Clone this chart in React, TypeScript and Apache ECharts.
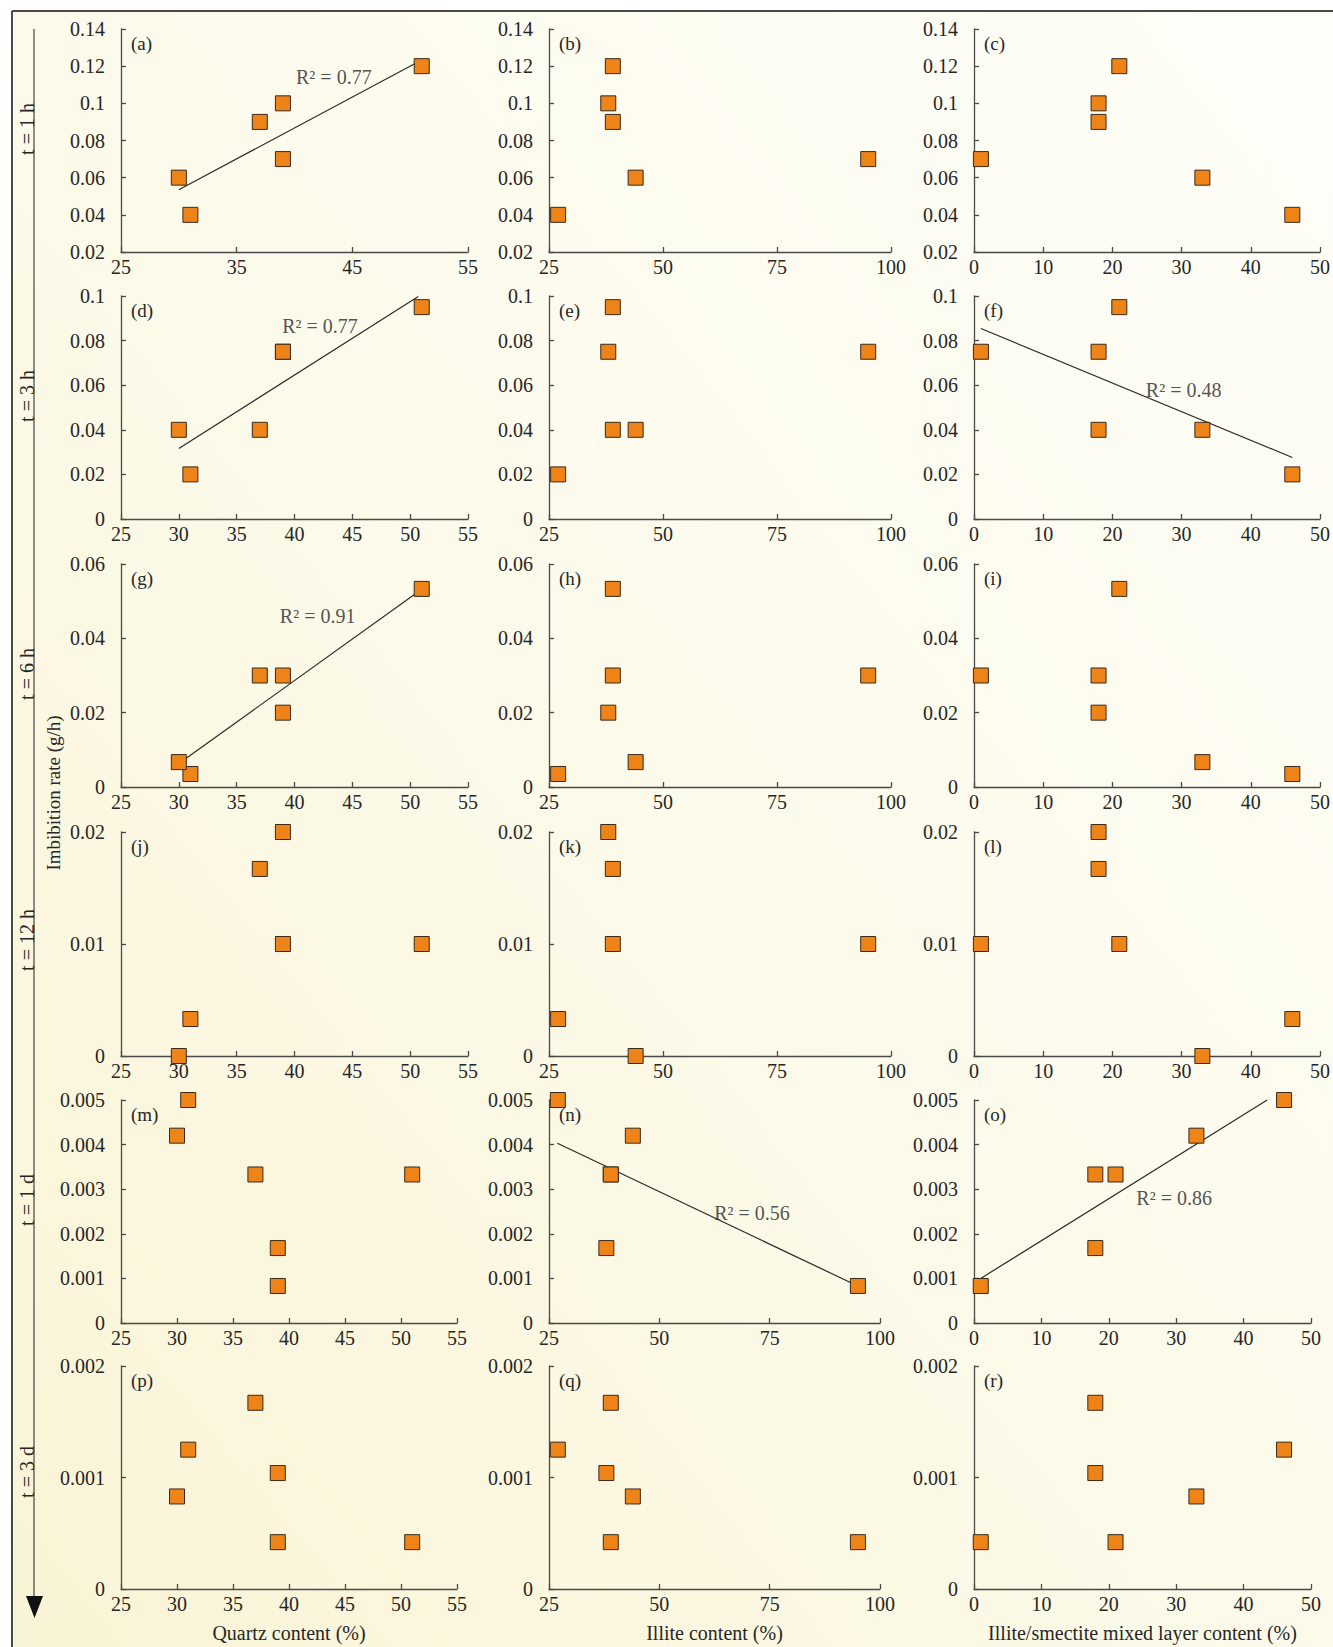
import React, { useEffect, useRef } from 'react';
import * as echarts from 'echarts';

const W = 1333;
const H = 1647;

// ---- data: six samples ----
const quartz = [31, 30, 39, 37, 39, 51];
const illite = [27, 44, 95, 39, 38, 39];
const mixedLayer = [46, 33, 1, 18, 18, 21];

const timeLabels = ['t = 1 h', 't = 3 h', 't = 6 h', 't = 12 h', 't = 1 d', 't = 3 d'];
const rate1h = [0.04, 0.06, 0.07, 0.09, 0.1, 0.12];
const rate3h = [0.02, 0.04, 0.075, 0.04, 0.075, 0.095];
const rate6h = [0.0035, 0.0067, 0.03, 0.03, 0.02, 0.0533];
const rate12h = [0.0033, 0, 0.01, 0.0167, 0.02, 0.01];
const rate1d = [0.005, 0.0042, 0.00083, 0.00333, 0.00168, 0.00333];
const rate3d = [0.00125, 0.00083, 0.00042, 0.00167, 0.00104, 0.00042];
const rates = [rate1h, rate3h, rate6h, rate12h, rate1d, rate3d];

const yMin = [0.02, 0, 0, 0, 0, 0];
const yMax = [0.14, 0.1, 0.06, 0.02, 0.005, 0.002];
const yStep = [0.02, 0.02, 0.02, 0.01, 0.001, 0.001];

const xNames = ['Quartz content (%)', 'Illite content (%)', 'Illite/smectite mixed layer content (%)'];
const xMin = [25, 25, 0];
const xMax = [55, 100, 50];
const xStepFirstRow = [10, 25, 10];
const xStep = [5, 25, 10];
const panelLetters = ['a', 'b', 'c', 'd', 'e', 'f', 'g', 'h', 'i', 'j', 'k', 'l', 'm', 'n', 'o', 'p', 'q', 'r'];

// fitted trend lines (end points) and R² labels
const trendPanels = [0, 3, 5, 6, 13, 14];
const trendLines = [
  [[30, 0.0535], [51.2, 0.124]],
  [[30, 0.0316], [50.7, 0.0998]],
  [[1, 0.0854], [46, 0.0276]],
  [[30.4, 0.0072], [51, 0.0532]],
  [[26.9, 0.00403], [93.9, 0.00088]],
  [[1, 0.001], [43.5, 0.005]],
];
const r2Texts = ['R² = 0.77', 'R² = 0.77', 'R² = 0.48', 'R² = 0.91', 'R² = 0.56', 'R² = 0.86'];
const r2Pos = [[43.4, 0.1143], [42.2, 0.0866], [30.3, 0.0578], [42.0, 0.046], [71, 0.00247], [29.7, 0.0028]];

// ---- layout ----
const colXTop = [[121, 468], [549, 891], [974, 1321]];
const colXBottom = [[121, 457], [549, 880], [974, 1311]];
const rowY = [[29, 252], [296, 519], [564, 787], [832, 1056], [1100, 1323], [1366, 1589]];
const timeLabelY = [129, 396, 674, 940, 1200, 1472];

const FONT = "'Liberation Serif', 'Times New Roman', serif";
const TXT = '#262626';
const AX = '#4a4a4a';

function buildOption() {
  const grid: any[] = [];
  const xAxis: any[] = [];
  const yAxis: any[] = [];
  const series: any[] = [];
  const graphic: any[] = [];
  const xsByCol = [quartz, illite, mixedLayer];

  graphic.push({
    type: 'rect',
    z: -100,
    shape: { x: 12, y: 11, width: W - 12, height: H - 11 },
    style: {
      fill: new echarts.graphic.LinearGradient(1, 0, 0, 1, [
        { offset: 0, color: '#fefef9' },
        { offset: 0.5, color: '#fcfaea' },
        { offset: 1, color: '#faf4d6' },
      ]),
    },
  });
  graphic.push({ type: 'line', shape: { x1: 12, y1: 11, x2: W, y2: 11 }, style: { stroke: '#4a4a4a', lineWidth: 2 } });
  graphic.push({ type: 'line', shape: { x1: 12, y1: 11, x2: 12, y2: H }, style: { stroke: '#4a4a4a', lineWidth: 2 } });
  graphic.push({ type: 'line', shape: { x1: 34, y1: 29, x2: 34, y2: 1600 }, style: { stroke: '#444', lineWidth: 1.2 } });
  graphic.push({ type: 'polygon', shape: { points: [[26, 1596], [43, 1596], [34.5, 1618]] }, style: { fill: '#111' } });
  timeLabels.forEach((t, r) => {
    graphic.push({
      type: 'text', x: 27, y: timeLabelY[r], rotation: Math.PI / 2,
      style: { text: t, font: `20px ${FONT}`, fill: TXT, align: 'center', verticalAlign: 'middle' },
    });
  });
  graphic.push({
    type: 'text', x: 53, y: 793, rotation: Math.PI / 2,
    style: { text: 'Imbibition rate (g/h)', font: `19px ${FONT}`, fill: TXT, align: 'center', verticalAlign: 'middle' },
  });

  for (let r = 0; r < 6; r++) {
    for (let c = 0; c < 3; c++) {
      const i = r * 3 + c;
      const cx = r < 4 ? colXTop[c] : colXBottom[c];
      const [y0, y1] = rowY[r];
      grid.push({ left: cx[0], top: y0, width: cx[1] - cx[0], height: y1 - y0 });
      const axisCommon = {
        gridIndex: i,
        type: 'value',
        splitLine: { show: false },
        axisLine: { show: true, onZero: false, lineStyle: { color: AX, width: 1.3 } },
        axisTick: { show: true, inside: true, length: 5, lineStyle: { color: AX, width: 1.3 } },
      };
      xAxis.push({
        ...axisCommon,
        min: xMin[c], max: xMax[c], interval: r === 0 ? xStepFirstRow[c] : xStep[c],
        axisLabel: { margin: 5, fontSize: 20, fontFamily: FONT, color: TXT },
        name: r === 5 ? xNames[c] : '',
        nameLocation: 'middle',
        nameGap: 34,
        nameTextStyle: { fontSize: 20, fontFamily: FONT, color: TXT },
      });
      yAxis.push({
        ...axisCommon,
        min: yMin[r], max: yMax[r], interval: yStep[r],
        axisLabel: { margin: 16, fontSize: 20, fontFamily: FONT, color: TXT },
      });
      graphic.push({
        type: 'text', x: cx[0] + 10, y: y0 + 14,
        style: { text: `(${panelLetters[i]})`, font: `19px ${FONT}`, fill: TXT, align: 'left', verticalAlign: 'middle' },
      });
      series.push({
        type: 'scatter',
        xAxisIndex: i, yAxisIndex: i,
        clip: false,
        symbol: 'rect',
        symbolSize: 15,
        z: 4,
        itemStyle: { color: '#ee8418', opacity: 1, borderColor: '#3a2a1a', borderWidth: 1 },
        data: xsByCol[c].map((x, k) => [x, rates[r][k]]),
      });
    }
  }

  trendPanels.forEach((p, k) => {
    series.push({
      type: 'line',
      xAxisIndex: p, yAxisIndex: p,
      showSymbol: false,
      symbol: 'none',
      clip: false,
      z: 3,
      lineStyle: { color: '#2a2a2a', width: 1.2 },
      data: trendLines[k],
    });
    series.push({
      type: 'scatter',
      xAxisIndex: p, yAxisIndex: p,
      symbolSize: 1,
      clip: false,
      z: 5,
      itemStyle: { color: 'rgba(0,0,0,0)' },
      label: {
        show: true, position: 'inside', formatter: r2Texts[k],
        fontSize: 20, fontFamily: FONT, color: TXT,
      },
      data: [r2Pos[k]],
    });
  });

  return {
    animation: false,
    backgroundColor: '#ffffff',
    grid, xAxis, yAxis, series, graphic,
  };
}

export default function App() {
  const ref = useRef<HTMLDivElement>(null);
  useEffect(() => {
    if (!ref.current) return;
    const chart = echarts.init(ref.current, undefined, { renderer: 'svg' });
    chart.setOption(buildOption() as any);
    return () => chart.dispose();
  }, []);
  return <div ref={ref} style={{ position: 'absolute', left: 0, top: 0, width: W, height: H }} />;
}
